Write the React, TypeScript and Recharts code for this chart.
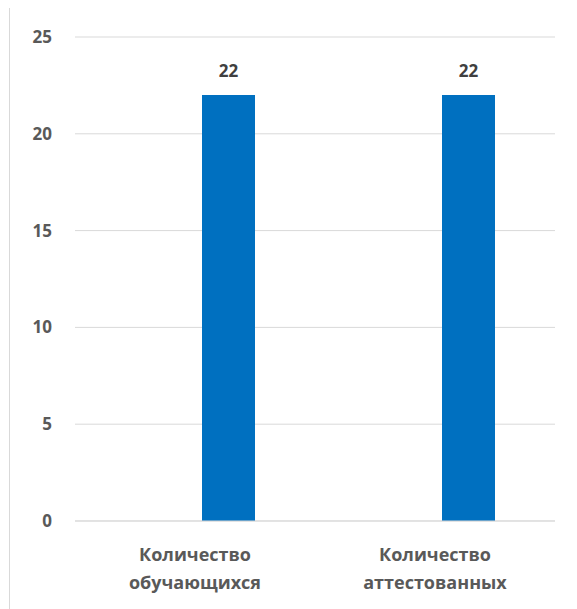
import React from "react";
import { BarChart, Bar, XAxis, YAxis, CartesianGrid, LabelList } from "recharts";

const categories = ["Количество обучающихся", "Количество аттестованных"];
const seriesEmpty: (number | null)[] = [null, null];
const seriesValues = [22, 22];
const yTicks = [0, 5, 10, 15, 20, 25];

const data = categories.map((c, i) => ({ name: c, a: seriesEmpty[i], b: seriesValues[i] }));

const FONT = "'Open Sans', 'Noto Sans', sans-serif";
const TEXT = "#595959";

const XTick = (props: any) => {
  const { x, y, payload } = props;
  const words = String(payload.value).split(" ");
  return (
    <g transform={`translate(${x},${y})`}>
      {words.map((w, i) => (
        <text key={i} x={0} y={32 + i * 28} textAnchor="middle" fill={TEXT} fontFamily={FONT} fontWeight="bold" fontSize={18}>
          {w}
        </text>
      ))}
    </g>
  );
};

export default function App() {
  return (
    <div style={{ position: "relative", left: 1, top: -1, width: 580, height: 610, border: "1px solid #d9d9d9", boxSizing: "border-box" }}>
      <BarChart
        width={570}
        height={600}
        data={data}
        margin={{ top: 29, right: 25, left: 0, bottom: 27 }}
        barGap={14}
        barCategoryGap={60}
      >
        <CartesianGrid vertical={false} stroke="#d9d9d9" />
        <XAxis dataKey="name" tick={<XTick />} tickLine={false} axisLine={{ stroke: "#d9d9d9" }} height={60} interval={0} />
        <YAxis
          domain={[0, 25]}
          ticks={yTicks}
          width={65}
          axisLine={false}
          tickLine={false}
          tickSize={0}
          tickMargin={23}
          tick={{ fill: TEXT, fontFamily: FONT, fontWeight: "bold", fontSize: 17 }}
        />
        <Bar dataKey="a" fill="#0070c0" isAnimationActive={false} barSize={53} />
        <Bar dataKey="b" fill="#0070c0" isAnimationActive={false} barSize={53}>
          <LabelList dataKey="b" position="top" offset={18} fill="#404040" fontFamily={FONT} fontWeight="bold" fontSize={17} />
        </Bar>
      </BarChart>
    </div>
  );
}
